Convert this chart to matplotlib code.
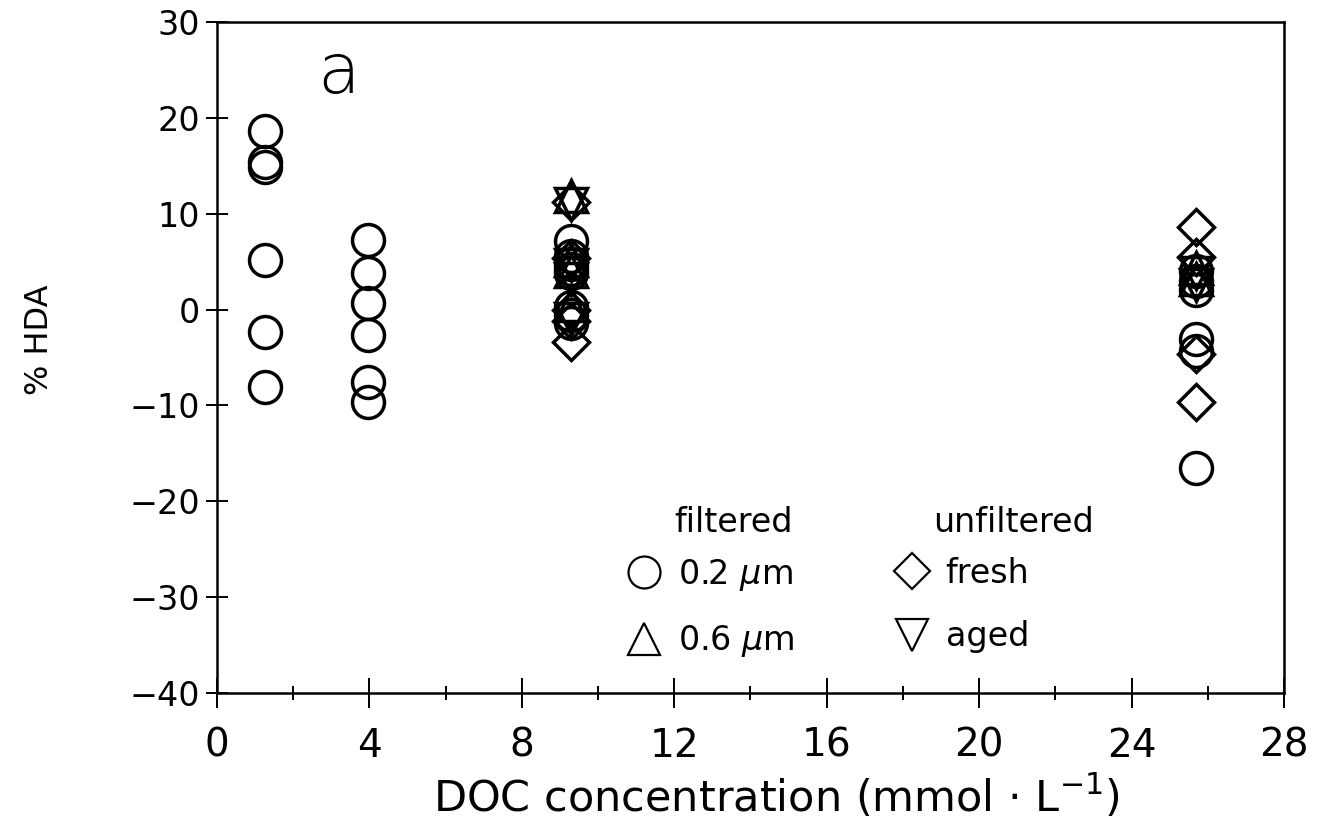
import matplotlib
matplotlib.use("Agg")
import matplotlib.pyplot as plt

plt.rcParams['font.family'] = ['DejaVu Sans']
plt.rcParams['mathtext.fontset'] = 'dejavusans'

# % HDA, filtered 0.2 um (circles), grouped by DOC concentration (mmol/L)
circ_x = [1.27] * 6 + [3.97] * 6 + [9.3] * 8 + [25.7] * 6
circ_y = [18.6, 15.4, 14.9, 5.2, -2.3, -8.1,
          7.3, 3.8, 0.7, -2.65, -7.55, -9.6,
          7.2, 5.6, 4.8, 4.2, 3.8, 0.3, -0.6, -1.4,
          4.0, 3.0, 2.0, -3.1, -4.3, -16.5]

# % HDA, filtered 0.6 um (up triangles)
tup_x = [9.3] * 4 + [25.7] * 2
tup_y = [11.8, 5.2, 4.0, 0.5,
         4.3, 3.2]

# % HDA, unfiltered fresh (diamonds)
dia_x = [9.3] * 5 + [25.7] * 4
dia_y = [11.2, 5.4, 0.0, -1.2, -3.4,
         8.6, 5.5, -4.6, -9.6]

# % HDA, unfiltered aged (down triangles)
tdn_x = [9.3] * 4 + [25.7] * 2
tdn_y = [11.0, 4.6, 3.2, -1.0,
         3.8, 2.6]

x_ticks = [0, 4, 8, 12, 16, 20, 24, 28]
x_minor = [2, 6, 10, 14, 18, 22, 26]
y_ticks = [-40, -30, -20, -10, 0, 10, 20, 30]

fig = plt.figure(figsize=(13.2, 8.3), dpi=100)
ax = fig.add_axes([0.1644, 0.1651, 0.8083, 0.8084])

mk = dict(linestyle='none', markerfacecolor='none', markeredgecolor='black',
          markeredgewidth=2.5)
h_circ, = ax.plot(circ_x, circ_y, marker='o', markersize=23, **mk)
h_tup, = ax.plot(tup_x, tup_y, marker='^', markersize=23, **mk)
h_dia, = ax.plot(dia_x, dia_y, marker='D', markersize=18.5, **mk)
h_tdn, = ax.plot(tdn_x, tdn_y, marker='v', markersize=23, **mk)

ax.set_xlim(0, 28)
ax.set_ylim(-40, 30)
ax.set_xticks(x_ticks)
ax.set_xticks(x_minor, minor=True)
ax.set_yticks(y_ticks)

for s in ax.spines.values():
    s.set_linewidth(1.8)

ax.tick_params(axis='x', which='major', direction='inout', length=21, width=1.4,
               labelsize=28, pad=14)
ax.tick_params(axis='x', which='minor', direction='inout', length=10, width=1.4)
ax.tick_params(axis='y', which='major', direction='inout', length=16, width=1.4,
               labelsize=24, pad=4)

ax.set_xlabel(r'DOC concentration (mmol $\cdot$ L$^{-1}$)', fontsize=31)
ax.xaxis.set_label_coords(0.524, -0.12)
ax.set_ylabel('% HDA', fontsize=23)
ax.yaxis.set_label_coords(-0.152, 0.526)

ax.text(3.2, 22.6, 'a', fontsize=50, ha='center', va='baseline',
        fontweight='light')

# legend: two groups, each with its own heading
leg_kw = dict(frameon=False, fontsize=24, loc='upper left', handletextpad=0.5,
              labelspacing=0.92, markerscale=1.0, handlelength=1.0,
              borderpad=0, borderaxespad=0)
leg1 = ax.legend([h_circ, h_tup], [r'0.2 $\mu$m', r'0.6 $\mu$m'],
                 bbox_to_anchor=(0.385, 0.203), **leg_kw)
for h in leg1.legend_handles:
    h.set_markeredgewidth(1.6)
ax.add_artist(leg1)
leg2 = ax.legend([h_dia, h_tdn], ['fresh', 'aged'],
                 bbox_to_anchor=(0.636, 0.203), **leg_kw)
for h in leg2.legend_handles:
    h.set_markeredgewidth(1.6)

ax.text(0.429, 0.240, 'filtered', transform=ax.transAxes, fontsize=24,
        ha='left', va='baseline')
ax.text(0.671, 0.240, 'unfiltered', transform=ax.transAxes, fontsize=24,
        ha='left', va='baseline')

fig.savefig('out.png', dpi=100)
